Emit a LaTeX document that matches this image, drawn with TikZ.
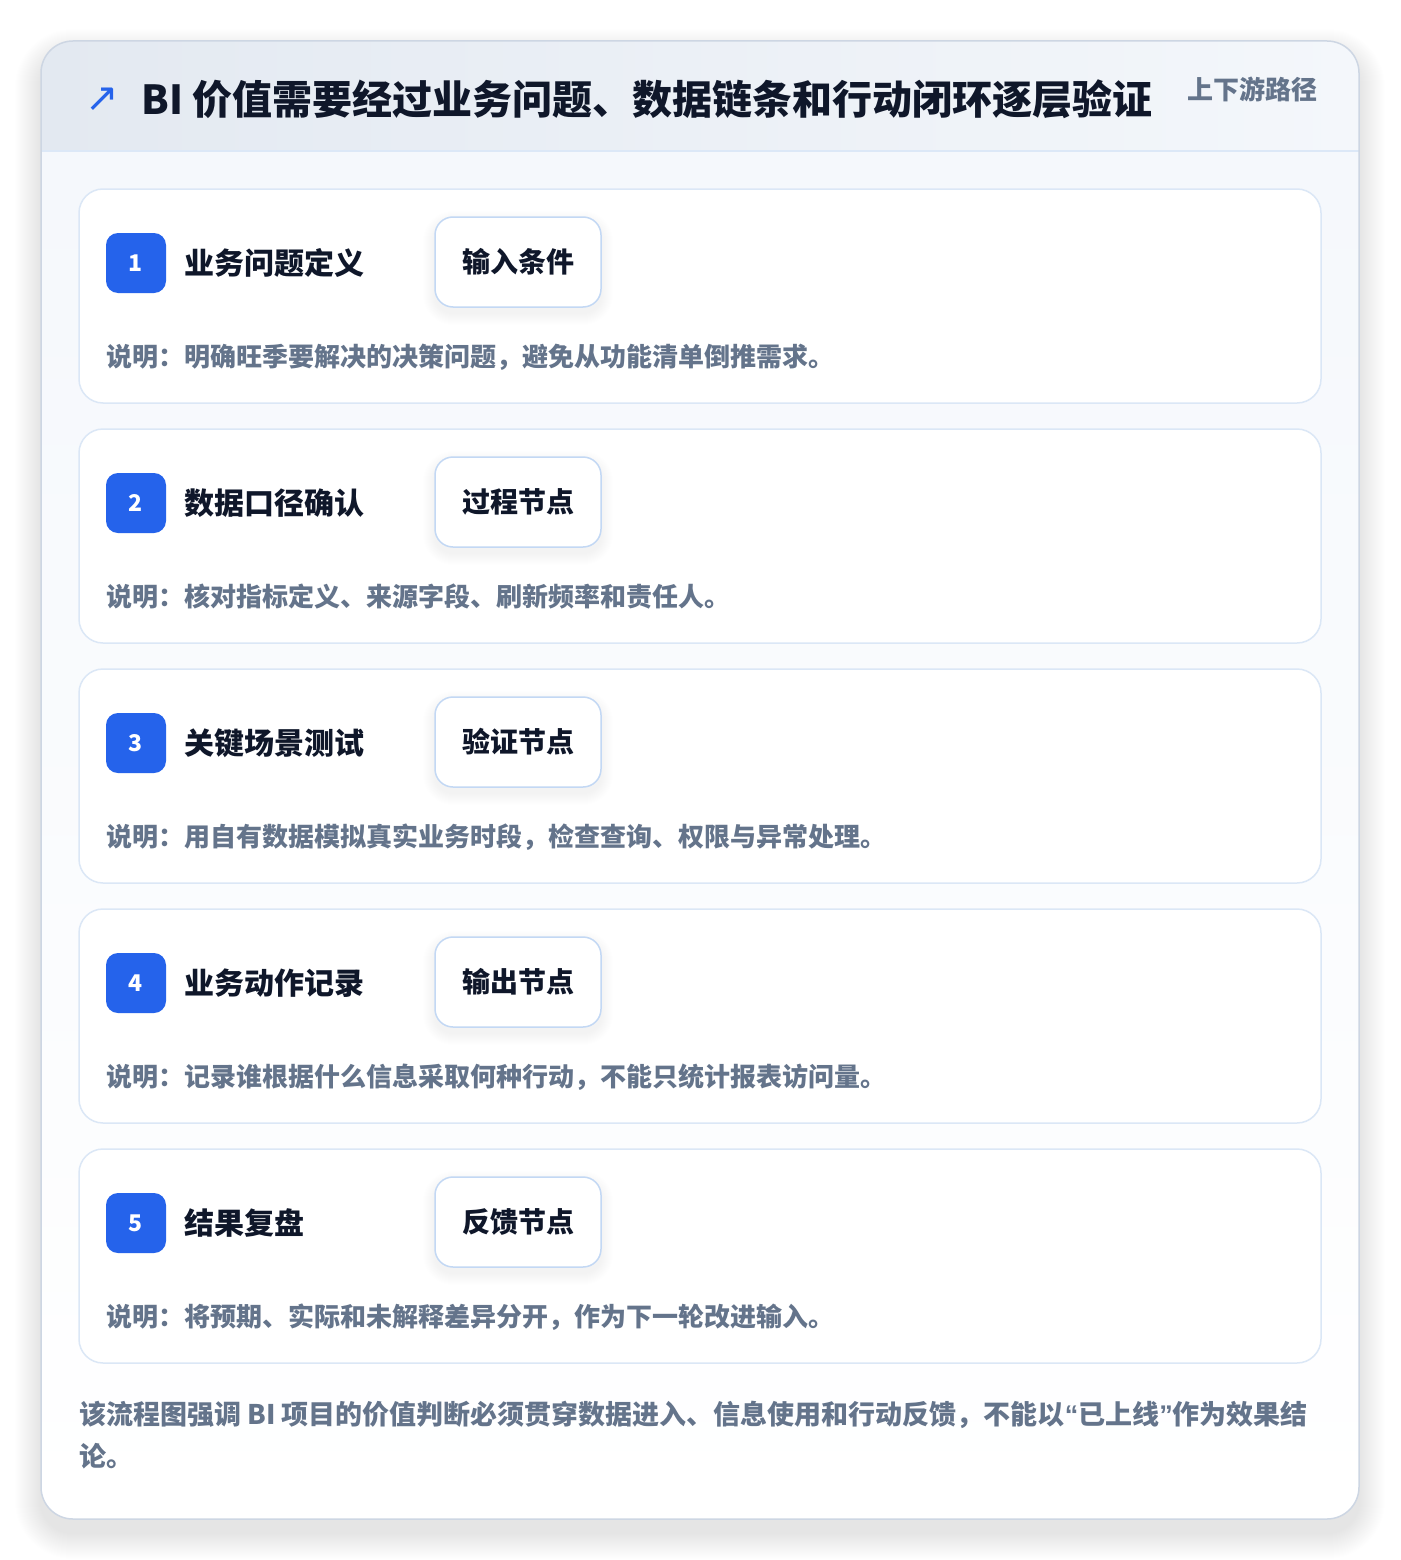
\documentclass[tikz,border=0pt]{standalone}
\usepackage{fontspec}
\setmainfont{Noto Sans CJK SC}
\newfontfamily\djv{DejaVu Sans}
\newfontfamily\latq{Liberation Sans}
\definecolor{ink}{HTML}{0F172A}
\definecolor{muted}{HTML}{64748B}
\definecolor{accent}{HTML}{2563EB}
\definecolor{cardline}{HTML}{DBE7F6}
\definecolor{tagline}{HTML}{C3D8F4}
\definecolor{outerline}{HTML}{CDD6E3}
\definecolor{hdrL}{HTML}{E3E9F1}
\definecolor{hdrR}{HTML}{F4F7FB}
\definecolor{hdrline}{HTML}{DCE8F7}
\definecolor{bodyT}{HTML}{F5F8FC}
\tikzset{
  card/.style={draw=cardline, line width=1.5pt, fill=white, rounded corners=24pt,
    minimum width=1242pt, minimum height=214pt, inner sep=0pt},
  badge/.style={fill=accent, rounded corners=12pt, minimum width=60pt, minimum height=60pt,
    inner sep=0pt, text=white, font=\fontsize{23}{26}\selectfont\bfseries},
  steptitle/.style={anchor=west, inner sep=0pt, text=ink, font=\fontsize{30}{36}\selectfont\bfseries},
  tagbox/.style={draw=tagline, line width=1.5pt, fill=white, rounded corners=18pt,
    minimum width=166pt, minimum height=90pt, inner sep=0pt, text=ink,
    font=\fontsize{28}{32}\selectfont\bfseries},
  desc/.style={anchor=west, inner sep=0pt, text=muted, font=\fontsize{26}{30}\selectfont\bfseries},
}
\begin{document}
\begin{tikzpicture}[x=1pt,y=-1pt]
\useasboundingbox (0,0) rectangle (1400,1560);
\fill[white] (0,0) rectangle (1400,1560);
% soft shadow of outer card
\foreach \k in {1,...,26}{
  \fill[black, opacity=0.0042, rounded corners={32pt+\k pt}]
    ({41-\k},{41-\k+14}) rectangle ({1359+\k},{1519+\k+14});
}
\fill[white, rounded corners=32pt] (41,41) rectangle (1359,1519);
\begin{scope}
  \clip[rounded corners=32pt] (41,41) rectangle (1359,1519);
  \shade[left color=hdrL, right color=hdrR] (41,41) rectangle (1359,151);
  \shade[top color=bodyT, bottom color=white] (41,151) rectangle (1359,1519);
\end{scope}
\draw[hdrline, line width=1.5pt] (41,151) -- (1359,151);
\draw[outerline, line width=1.5pt, rounded corners=32pt] (41,41) rectangle (1359,1519);
% header
\node[text=accent, inner sep=0pt, font=\fontsize{40}{44}\selectfont\djv] (icon) at (102,100) {↗};
\node[anchor=west, inner sep=0pt, text=ink, font=\fontsize{40}{46}\selectfont\bfseries] (title) at (141,99)
  {BI 价值需要经过业务问题、数据链条和行动闭环逐层验证};
\node[anchor=east, inner sep=0pt, text=muted, font=\fontsize{26}{30}\selectfont\bfseries] (tag) at (1318,89) {上下游路径};
% steps
\foreach \i/\ttl/\tg/\ds in {
  1/业务问题定义/输入条件/说明：明确旺季要解决的决策问题，避免从功能清单倒推需求。,
  2/数据口径确认/过程节点/说明：核对指标定义、来源字段、刷新频率和责任人。,
  3/关键场景测试/验证节点/说明：用自有数据模拟真实业务时段，检查查询、权限与异常处理。,
  4/业务动作记录/输出节点/说明：记录谁根据什么信息采取何种行动，不能只统计报表访问量。,
  5/结果复盘/反馈节点/说明：将预期、实际和未解释差异分开，作为下一轮改进输入。}{
  \pgfmathsetmacro{\tp}{189+240*(\i-1)}
  \node[card] (card\i) at (700,\tp+107) {};
  \foreach \k in {1,...,12}{
    \fill[black, opacity=0.005, rounded corners={18pt+\k pt}]
      ({435-\k},{\tp+28-\k+6}) rectangle ({601+\k},{\tp+118+\k+6});
  }
  \node[badge] (badge\i) at (136,\tp+74) {\i};
  \node[steptitle] (title\i) at (184,\tp+74) {\ttl};
  \node[tagbox] (tag\i) at (518,\tp+73) {\tg};
  \node[desc] (desc\i) at (106,\tp+168) {\ds};
}
% footer
\node[anchor=north west, inner sep=0pt, text=muted, align=left,
  font=\fontsize{27}{42}\selectfont\bfseries] (foot) at (79,1401)
  {该流程图强调 BI 项目的价值判断必须贯穿数据进入、信息使用和行动反馈，不能以{\latq “}已上线{\latq ”}作为效果结\\论。};
\end{tikzpicture}
\end{document}
